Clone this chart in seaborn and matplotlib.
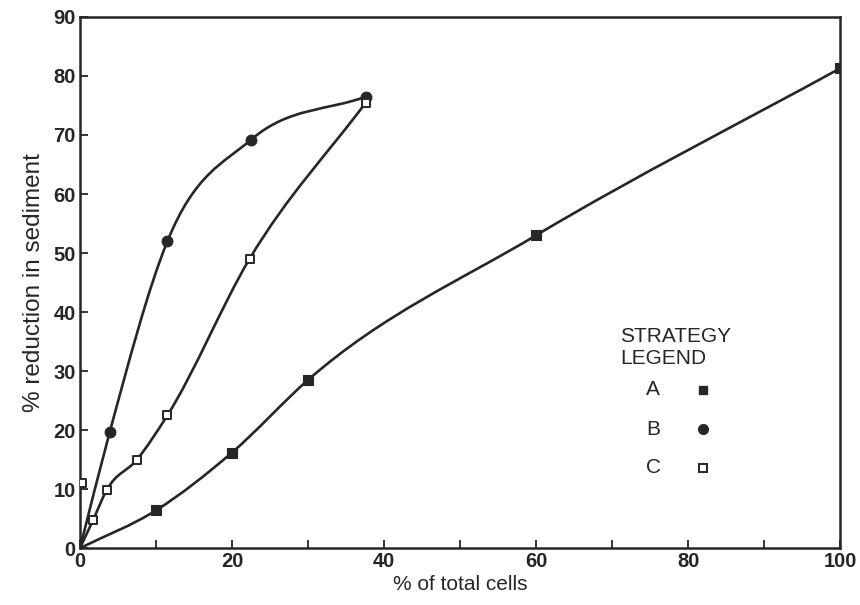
import numpy as np
import matplotlib
matplotlib.use("Agg")
import matplotlib.pyplot as plt
from matplotlib.path import Path
from matplotlib.patches import PathPatch
import seaborn as sns

# strategy A (filled squares)
a_x = [0, 10, 20, 30, 60, 100]
a_y = [0, 6.4, 16.2, 28.5, 53, 81.3]

# strategy B (filled circles)
b_x = [0, 3.9, 11.5, 22.5, 37.6]
b_y = [0, 19.6, 52, 69.2, 76.5]

# strategy C (open squares)
c_x = [0, 1.7, 3.5, 7.5, 11.5, 22.3, 37.6]
c_y = [0, 4.7, 9.8, 15, 22.5, 49, 75.5]

# lone C point sitting on the y axis
c_extra_x = [0.2]
c_extra_y = [11]

x_ticks = [0, 20, 40, 60, 80, 100]
x_minor = [10, 30, 50, 70, 90]
y_ticks = [0, 10, 20, 30, 40, 50, 60, 70, 80, 90]
legend_labels = ["A", "B", "C"]

INK = "#262626"


def smooth_path(xs, ys):
    # cubic hermite through the points (slopes from neighbours), as bezier segments
    x = np.asarray(xs, float)
    y = np.asarray(ys, float)
    h = np.diff(x)
    d = np.diff(y) / h
    m = np.empty_like(x)
    m[0] = d[0]
    m[-1] = d[-1]
    for i in range(1, len(x) - 1):
        m[i] = (h[i - 1] * d[i] + h[i] * d[i - 1]) / (h[i - 1] + h[i])
    verts = [(x[0], y[0])]
    codes = [Path.MOVETO]
    for i in range(len(x) - 1):
        verts += [(x[i] + h[i] / 3, y[i] + m[i] * h[i] / 3),
                  (x[i + 1] - h[i] / 3, y[i + 1] - m[i + 1] * h[i] / 3),
                  (x[i + 1], y[i + 1])]
        codes += [Path.CURVE4] * 3
    return Path(verts, codes)


sns.set_style("ticks")
plt.rcParams['font.family'] = ['Liberation Sans', 'DejaVu Sans']

fig = plt.figure(figsize=(8.6, 6.05), dpi=100)
ax = fig.add_axes([0.093, 0.094, 0.884, 0.878])

for xs, ys in [(a_x, a_y), (b_x, b_y), (c_x, c_y)]:
    ax.add_patch(PathPatch(smooth_path(xs, ys), facecolor="none",
                           edgecolor=INK, lw=1.9, zorder=2))

sns.scatterplot(x=a_x[1:], y=a_y[1:], marker="s", s=50, color=INK,
                edgecolor=INK, linewidth=0.8, ax=ax, zorder=3)
sns.scatterplot(x=b_x[1:], y=b_y[1:], marker="o", s=60, color=INK,
                edgecolor=INK, linewidth=0.8, ax=ax, zorder=3)
sns.scatterplot(x=c_x[1:] + c_extra_x, y=c_y[1:] + c_extra_y, marker="s", s=36,
                color="white", edgecolor=INK, linewidth=1.4, ax=ax, zorder=3)

ax.set_xlim(0, 100)
ax.set_ylim(0, 90)
ax.set_xticks(x_ticks)
ax.set_xticks(x_minor, minor=True)
ax.set_yticks(y_ticks)
ax.tick_params(axis="both", which="both", direction="in", length=6, width=1.3,
               color=INK, labelsize=14.5, labelcolor=INK, pad=3)
for lab in ax.get_xticklabels() + ax.get_yticklabels():
    lab.set_fontweight("bold")
for sp in ax.spines.values():
    sp.set_linewidth(1.8)
    sp.set_color(INK)

ax.set_xlabel("% of total cells", fontsize=15, color=INK, labelpad=3)
ax.set_ylabel("% reduction in sediment", fontsize=17.5, color=INK, labelpad=6)

# hand-drawn style legend box
ax.text(0.710, 0.399, "STRATEGY", transform=ax.transAxes, fontsize=15,
        color=INK, va="center", ha="left")
ax.text(0.710, 0.357, "LEGEND", transform=ax.transAxes, fontsize=15,
        color=INK, va="center", ha="left")
leg_y = [0.298, 0.224, 0.151]
leg_style = [dict(marker="s", color=INK, mfc=INK, ms=6),
             dict(marker="o", color=INK, mfc=INK, ms=7),
             dict(marker="s", color=INK, mfc="white", ms=6, mew=1.4)]
for lab, yy, st in zip(legend_labels, leg_y, leg_style):
    ax.text(0.754, yy, lab, transform=ax.transAxes, fontsize=15, color=INK,
            va="center", ha="center")
    ax.plot([0.820], [yy], transform=ax.transAxes, ls="none", **st)

fig.savefig("out.png", dpi=100, facecolor="white")
